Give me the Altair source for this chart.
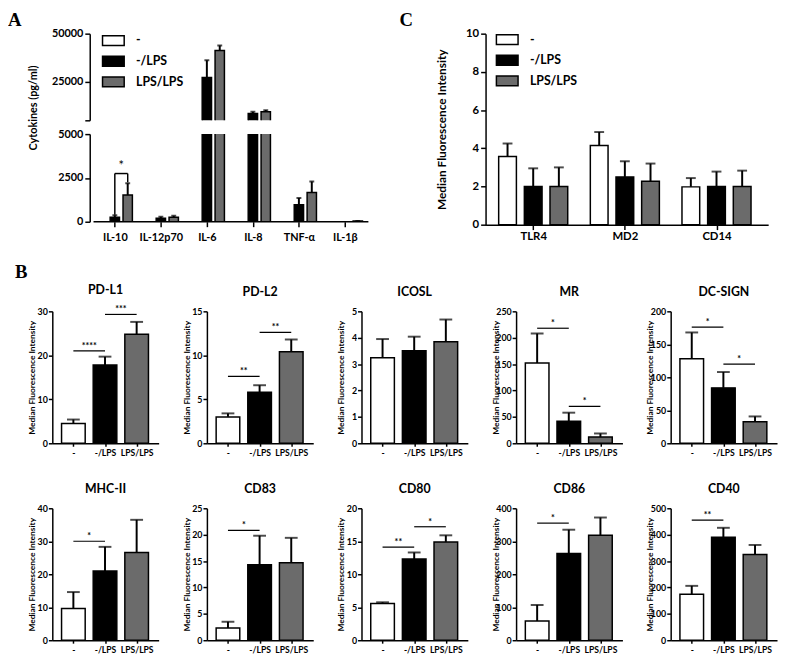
import json
import altair as alt
import pandas as pd

# ---------------- data ----------------
groups = ["-", "-/LPS", "LPS/LPS"]
group_colors = ["#ffffff", "#000000", "#6b6b6b"]

# Panel A : cytokines (pg/ml)
a_cytokines = ["IL-10", "IL-12p70", "IL-6", "IL-8", "TNF-α", "IL-1β"]
a_mean_ctrl = [0, 0, 0, 0, 0, 0]
a_err_ctrl = [0, 0, 0, 0, 0, 0]
a_mean_lps = [250, 200, 27200, 8500, 970, 0]
a_err_lps = [120, 80, 9000, 1000, 380, 0]
a_mean_lpslps = [1530, 250, 41300, 9500, 1670, 40]
a_err_lpslps = [660, 90, 2500, 800, 620, 10]
a_sig_cat = "IL-10"
a_sig_from = "-/LPS"
a_sig_to = "LPS/LPS"
a_sig_y = 2750
a_sig_leg_from = 400
a_sig_leg_to = 2250
a_sig_label = "*"

# Panel C : TLR4 / MD2 / CD14
c_markers = ["TLR4", "MD2", "CD14"]
c_mean_ctrl = [3.57, 4.15, 1.98]
c_err_ctrl = [0.68, 0.70, 0.46]
c_mean_lps = [2.0, 2.5, 2.0]
c_err_lps = [0.95, 0.82, 0.78]
c_mean_lpslps = [2.0, 2.27, 2.0]
c_err_lpslps = [1.0, 0.93, 0.83]

# Panel B : surface markers
b_markers = ["PD-L1", "PD-L2", "ICOSL", "MR", "DC-SIGN",
             "MHC-II", "CD83", "CD80", "CD86", "CD40"]
b_ymax = [30, 15, 5, 250, 200, 40, 25, 20, 400, 500]
b_ystep = [10, 5, 1, 50, 50, 10, 5, 5, 100, 100]
b_mean_ctrl = [4.5, 3.0, 3.24, 152, 128, 9.6, 2.3, 5.55, 58, 174]
b_err_ctrl = [0.9, 0.4, 0.71, 56, 40, 5.0, 1.2, 0.2, 49, 32]
b_mean_lps = [17.8, 5.8, 3.51, 42, 84, 21, 14.3, 12.3, 263, 390]
b_err_lps = [1.9, 0.8, 0.53, 16, 24, 7.3, 5.5, 1.0, 72, 36]
b_mean_lpslps = [24.8, 10.4, 3.85, 12, 32.8, 26.6, 14.7, 14.9, 318, 325]
b_err_lpslps = [2.8, 1.4, 0.84, 6.6, 7.9, 9.9, 4.7, 1.0, 54, 36]

sig_marker = ["PD-L1", "PD-L1", "PD-L2", "PD-L2", "MR", "MR", "DC-SIGN",
              "DC-SIGN", "MHC-II", "CD83", "CD80", "CD80", "CD86", "CD40"]
sig_from = ["-", "-/LPS", "-", "-/LPS", "-", "-/LPS", "-",
            "-/LPS", "-", "-", "-", "-/LPS", "-", "-"]
sig_to = ["-/LPS", "LPS/LPS", "-/LPS", "LPS/LPS", "-/LPS", "LPS/LPS", "-/LPS",
          "LPS/LPS", "-/LPS", "-/LPS", "-/LPS", "LPS/LPS", "-/LPS", "-/LPS"]
sig_y = [21, 29.3, 7.6, 12.6, 218, 70, 176, 120, 30, 20.8, 14.1, 17.2, 355, 455]
sig_label = ["****", "***", "**", "**", "*", "*", "*", "*", "*", "*",
             "**", "*", "*", "**"]

# ---------------- styling helpers ----------------
FONT = "Lato"
SERIF = "Liberation Serif"
OFFS = [-0.28, 0.0, 0.28]   # group offset inside a category (A and C)

color_enc_nolegend = alt.Color("group:N", scale=alt.Scale(domain=groups, range=group_colors), legend=None)


def legend_color(lx, ly):
    return alt.Color(
        "group:N",
        scale=alt.Scale(domain=groups, range=group_colors),
        legend=alt.Legend(
            orient="none", legendX=lx, legendY=ly, title=None, padding=0, offset=0,
            symbolType="M-1,-0.4545H1V0.4545H-1Z", symbolSize=484,
            symbolStrokeColor="black", symbolStrokeWidth=1.5, symbolOpacity=1,
            labelFont=FONT, labelFontSize=12.5, labelFontWeight="bold",
            labelColor="black", labelOffset=11, rowPadding=1,
        ),
    )


def axis_style(**kw):
    base = dict(domainColor="black", domainWidth=1.5, tickColor="black", tickWidth=1.5,
                labelColor="black", labelFont=FONT, labelFontWeight="bold",
                titleColor="black", titleFont=FONT, titleFontWeight="bold", grid=False)
    base.update(kw)
    return alt.Axis(**base)


def label_expr(names):
    return json.dumps(names) + "[datum.value]"


def letter(t, dx, off=2):
    return alt.Title(t, anchor="start", frame="bounds", dx=dx, font=SERIF, fontSize=19,
                     fontWeight="bold", color="black", offset=off)


# ---------------- panel A ----------------
a_rows = []
for i, cat in enumerate(a_cytokines):
    for g, (m, e) in enumerate(zip([a_mean_ctrl, a_mean_lps, a_mean_lpslps],
                                   [a_err_ctrl, a_err_lps, a_err_lpslps])):
        a_rows.append(dict(cat=cat, group=groups[g], pos=i + OFFS[g],
                           mean=m[i], upper=m[i] + e[i], err=e[i]))
a_df = pd.DataFrame(a_rows)
a_err_df = a_df[a_df["err"] > 0]

ai = a_cytokines.index(a_sig_cat)
p1 = ai + OFFS[groups.index(a_sig_from)]
p2 = ai + OFFS[groups.index(a_sig_to)]
a_br_h = pd.DataFrame({"x1": [p1], "x2": [p2], "y": [a_sig_y], "lab": [a_sig_label], "xm": [(p1 + p2) / 2]})
a_br_v = pd.DataFrame({"x": [p1, p2], "y1": [a_sig_leg_from, a_sig_leg_to], "y2": [a_sig_y, a_sig_y]})

# x extent of the category axis, and a blank margin at the left of the plot area
A_XMIN, A_XMAX = -0.463, 5.51
A_PX_PER_UNIT = 48.2
A_SHIFT = 38
a_xscale = alt.Scale(domain=[A_XMIN - A_SHIFT / A_PX_PER_UNIT, A_XMAX], nice=False, zero=False)
A_W = 288 + A_SHIFT
a_base_df = pd.DataFrame({"x1": [A_XMIN], "x2": [A_XMAX], "y": [0]})
YT_A = "Cytokines (pg/ml)"


def a_layers(ydomain, yaxis, xaxis, with_legend, extra=()):
    ys = alt.Scale(domain=ydomain, nice=False, zero=False)
    col = legend_color(12 + A_SHIFT, -5) if with_legend else color_enc_nolegend
    err = alt.Chart(a_err_df).mark_rule(strokeWidth=2, color="black", clip=True).encode(
        x=alt.X("pos:Q", scale=a_xscale, axis=xaxis),
        y=alt.Y("mean:Q", scale=ys, axis=yaxis), y2="upper:Q")
    cap = alt.Chart(a_err_df).mark_tick(orient="horizontal", size=5, thickness=2, color="black", clip=True).encode(
        x=alt.X("pos:Q", scale=a_xscale, axis=xaxis),
        y=alt.Y("upper:Q", scale=ys, axis=yaxis))
    bars = alt.Chart(a_df).mark_bar(size=9.5, stroke="black", strokeWidth=1.5, clip=True).encode(
        x=alt.X("pos:Q", scale=a_xscale, axis=xaxis),
        y=alt.Y("mean:Q", scale=ys, axis=yaxis), color=col)
    layers = [err, cap, bars]
    for mk in extra:
        layers.append(mk(ys, yaxis, xaxis))
    return layers


a_up_yaxis = axis_style(values=[5000, 25000, 50000], labelExpr="datum.value == 5000 ? '' : format(datum.value, 'd')",
                        title=YT_A, titleFontSize=11, labelFontSize=11, tickSize=5, labelPadding=2,
                        titlePadding=13, titleY=75, offset=-A_SHIFT)
a_lo_yaxis = axis_style(values=[0, 2500, 5000], format="d", title=None, labelFontSize=11,
                        tickSize=5, labelPadding=2, offset=-A_SHIFT)
a_lo_xaxis = axis_style(values=list(range(len(a_cytokines))), labelExpr=label_expr(a_cytokines), title=None,
                        labelFontSize=11, tickSize=5, labelPadding=5, domain=False)

upper = alt.layer(*a_layers([5000, 50000], a_up_yaxis, None, True)).properties(width=A_W, height=88)


def base_line(ys, yaxis, xaxis):
    return alt.Chart(a_base_df).mark_rule(strokeWidth=1.5, color="black").encode(
        x=alt.X("x1:Q", scale=a_xscale, axis=xaxis), x2="x2:Q",
        y=alt.Y("y:Q", scale=ys, axis=yaxis))


def br_h(ys, yaxis, xaxis):
    return alt.Chart(a_br_h).mark_rule(strokeWidth=1.5, color="black").encode(
        x=alt.X("x1:Q", scale=a_xscale, axis=xaxis), x2="x2:Q",
        y=alt.Y("y:Q", scale=ys, axis=yaxis))


def br_v(ys, yaxis, xaxis):
    return alt.Chart(a_br_v).mark_rule(strokeWidth=1.5, color="black").encode(
        x=alt.X("x:Q", scale=a_xscale, axis=xaxis),
        y=alt.Y("y1:Q", scale=ys, axis=yaxis), y2="y2:Q")


def br_t(ys, yaxis, xaxis):
    return alt.Chart(a_br_h).mark_text(baseline="bottom", dy=-1, fontSize=13, font=FONT,
                                       color="black", fill="black").encode(
        x=alt.X("xm:Q", scale=a_xscale, axis=xaxis),
        y=alt.Y("y:Q", scale=ys, axis=yaxis), text="lab:N")


lower = alt.layer(*a_layers([0, 5000], a_lo_yaxis, a_lo_xaxis, False,
                            extra=(base_line, br_h, br_v, br_t))).properties(width=A_W, height=89)

panel_a = alt.vconcat(upper, lower, spacing=14, bounds="flush", title=letter("A", -20, -2)).resolve_scale(
    color="independent").resolve_legend(color="independent")

# ---------------- panel C ----------------
c_rows = []
for i, mk in enumerate(c_markers):
    for g, (m, e) in enumerate(zip([c_mean_ctrl, c_mean_lps, c_mean_lpslps],
                                   [c_err_ctrl, c_err_lps, c_err_lpslps])):
        c_rows.append(dict(cat=mk, group=groups[g], pos=i + OFFS[g], mean=m[i], upper=m[i] + e[i]))
c_df = pd.DataFrame(c_rows)
c_xs = alt.Scale(domain=[-0.466, 2.51], nice=False, zero=False)
c_ys = alt.Scale(domain=[0, 10], nice=False)
c_xaxis = axis_style(values=[0, 1, 2], labelExpr=label_expr(c_markers), title=None, labelFontSize=11.5,
                     tickSize=5, labelPadding=1)
c_yaxis = axis_style(values=[0, 2, 4, 6, 8, 10], title="Median Fluorescence Intensity", titleFontSize=12,
                     labelFontSize=11.5, tickSize=5, labelPadding=2, titlePadding=17)
c_err = alt.Chart(c_df).mark_rule(strokeWidth=2, color="black").encode(
    x=alt.X("pos:Q", scale=c_xs, axis=c_xaxis), y=alt.Y("mean:Q", scale=c_ys, axis=c_yaxis), y2="upper:Q")
c_cap = alt.Chart(c_df).mark_tick(orient="horizontal", size=10, thickness=2, color="black").encode(
    x=alt.X("pos:Q", scale=c_xs, axis=c_xaxis), y=alt.Y("upper:Q", scale=c_ys, axis=c_yaxis))
c_bars = alt.Chart(c_df).mark_bar(size=18, stroke="black", strokeWidth=1.5).encode(
    x=alt.X("pos:Q", scale=c_xs, axis=c_xaxis), y=alt.Y("mean:Q", scale=c_ys, axis=c_yaxis),
    color=legend_color(10, -6))
panel_c = alt.layer(c_err, c_cap, c_bars).properties(width=287, height=194, title=letter("C", -37, -2))

# ---------------- panel B ----------------
B_W, B_H = 108, 134
b_xs = alt.Scale(domain=[-0.51, 2.54], nice=False, zero=False)
YT_B = "Median Fluorescence Intensity"


def b_panel(k):
    mk = b_markers[k]
    means = [b_mean_ctrl[k], b_mean_lps[k], b_mean_lpslps[k]]
    errs = [b_err_ctrl[k], b_err_lps[k], b_err_lpslps[k]]
    df = pd.DataFrame({"group": groups, "pos": [0, 1, 2], "mean": means,
                       "upper": [m + e for m, e in zip(means, errs)]})
    ys = alt.Scale(domain=[0, b_ymax[k]], nice=False)
    yaxis = axis_style(values=list(range(0, b_ymax[k] + 1, b_ystep[k])), title=YT_B, titleFontSize=8.5,
                       labelFontSize=9, tickSize=4, labelPadding=1, titlePadding=2,
                       minExtent=14, maxExtent=14)
    xaxis = axis_style(values=[0, 1, 2], labelExpr=label_expr(groups), title=None, labelFontSize=8.7,
                       tickSize=3, labelPadding=2)
    err = alt.Chart(df).mark_rule(strokeWidth=2, color="black").encode(
        x=alt.X("pos:Q", scale=b_xs, axis=xaxis), y=alt.Y("mean:Q", scale=ys, axis=yaxis), y2="upper:Q")
    cap = alt.Chart(df).mark_tick(orient="horizontal", size=13, thickness=2, color="black").encode(
        x=alt.X("pos:Q", scale=b_xs, axis=xaxis), y=alt.Y("upper:Q", scale=ys, axis=yaxis))
    bars = alt.Chart(df).mark_bar(size=24, stroke="black", strokeWidth=1.5).encode(
        x=alt.X("pos:Q", scale=b_xs, axis=xaxis), y=alt.Y("mean:Q", scale=ys, axis=yaxis),
        color=color_enc_nolegend)
    layers = [err, cap, bars]
    idx = [j for j, s in enumerate(sig_marker) if s == mk]
    if idx:
        sdf = pd.DataFrame({
            "x1": [groups.index(sig_from[j]) for j in idx],
            "x2": [groups.index(sig_to[j]) for j in idx],
            "y": [sig_y[j] for j in idx],
            "lab": [sig_label[j] for j in idx],
        })
        sdf["xm"] = (sdf["x1"] + sdf["x2"]) / 2
        layers.append(alt.Chart(sdf).mark_rule(strokeWidth=1.2, color="black").encode(
            x=alt.X("x1:Q", scale=b_xs, axis=xaxis), x2="x2:Q", y=alt.Y("y:Q", scale=ys, axis=yaxis)))
        layers.append(alt.Chart(sdf).mark_text(baseline="bottom", dy=0, fontSize=9, font=FONT,
                                               fontWeight="bold", color="black", fill="black").encode(
            x=alt.X("xm:Q", scale=b_xs, axis=xaxis), y=alt.Y("y:Q", scale=ys, axis=yaxis), text="lab:N"))
    return alt.layer(*layers).properties(
        width=B_W, height=B_H,
        title=alt.Title(mk, font=FONT, fontSize=12.5, fontWeight="bold", color="black", offset=9,
                        anchor="middle", frame="group"))


row_b1 = alt.hconcat(*[b_panel(k) for k in range(5)], spacing=24, title=letter("B", -13)).resolve_scale(
    color="independent").resolve_legend(color="independent")
row_b2 = alt.hconcat(*[b_panel(k) for k in range(5, 10)], spacing=24).resolve_scale(
    color="independent").resolve_legend(color="independent")

row_ac = alt.hconcat(panel_a, panel_c, spacing=26).resolve_scale(color="independent").resolve_legend(
    color="independent")

rows_b = alt.vconcat(row_b1, row_b2, spacing=26).resolve_scale(color="independent").resolve_legend(
    color="independent")

chart = alt.vconcat(row_ac, rows_b, spacing=21).resolve_scale(color="independent").resolve_legend(
    color="independent").properties(
    padding={"left": 0, "top": -2, "right": 2, "bottom": 0}, background="white"
).configure_view(stroke=None)

chart.save("out.html", embed_options={"renderer": "svg", "actions": False})
